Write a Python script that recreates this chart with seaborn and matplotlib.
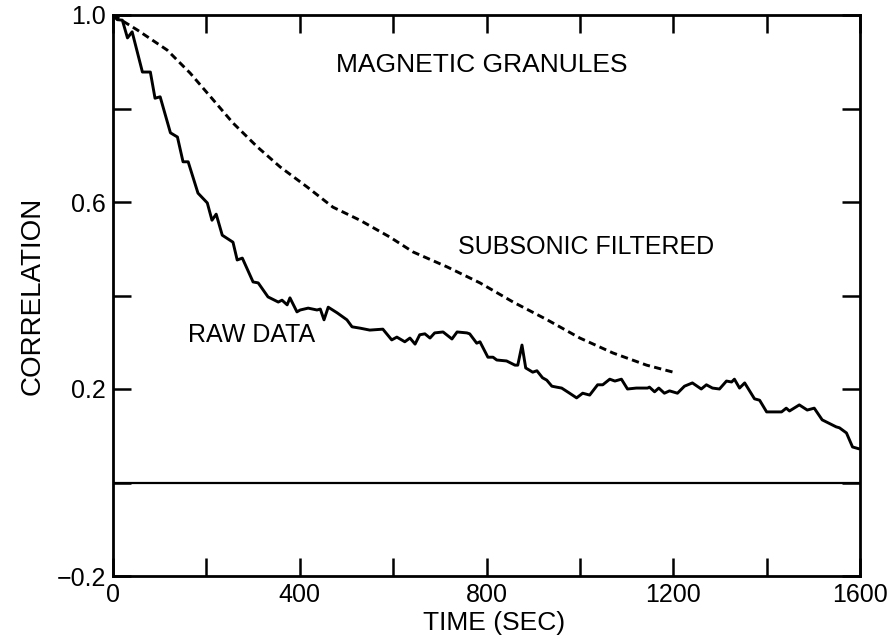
import matplotlib
matplotlib.use("Agg")
import matplotlib.pyplot as plt
import seaborn as sns
import pandas as pd

# ---- data ----
raw_t = [0, 9, 20, 31, 41, 63, 80, 90, 101, 123,
         138, 150, 161, 182, 202, 212, 221, 234, 257, 266,
         277, 300, 311, 332, 354, 362, 373, 379, 394, 401,
         418, 437, 444, 452, 461, 480, 501, 512, 530, 550,
         578, 597, 608, 625, 636, 647, 657, 668, 679, 689,
         707, 726, 737, 758, 764, 779, 786, 803, 814, 822,
         843, 861, 867, 876, 884, 899, 908, 920, 929, 940,
         950, 961, 978, 993, 1006, 1021, 1038, 1049, 1064, 1075,
         1089, 1102, 1121, 1145, 1149, 1160, 1169, 1181, 1192, 1209,
         1224, 1241, 1260, 1271, 1284, 1299, 1314, 1325, 1331, 1342,
         1353, 1374, 1385, 1400, 1432, 1442, 1449, 1470, 1487, 1502,
         1519, 1549, 1556, 1571, 1584, 1598]
raw_c = [1.0, 0.99, 0.989, 0.951, 0.964, 0.878, 0.878, 0.822, 0.825, 0.748,
         0.739, 0.686, 0.686, 0.619, 0.598, 0.561, 0.574, 0.529, 0.514, 0.476,
         0.480, 0.429, 0.427, 0.397, 0.386, 0.390, 0.380, 0.395, 0.365, 0.369,
         0.373, 0.369, 0.371, 0.348, 0.375, 0.363, 0.348, 0.333, 0.330, 0.326,
         0.328, 0.305, 0.311, 0.301, 0.309, 0.296, 0.316, 0.318, 0.309, 0.320,
         0.322, 0.307, 0.322, 0.320, 0.318, 0.298, 0.301, 0.268, 0.268, 0.262,
         0.260, 0.251, 0.251, 0.294, 0.245, 0.236, 0.239, 0.224, 0.219, 0.206,
         0.204, 0.202, 0.191, 0.181, 0.191, 0.187, 0.209, 0.209, 0.221, 0.217,
         0.221, 0.200, 0.202, 0.202, 0.204, 0.194, 0.202, 0.191, 0.196, 0.191,
         0.206, 0.213, 0.200, 0.209, 0.202, 0.200, 0.217, 0.215, 0.221, 0.202,
         0.213, 0.179, 0.176, 0.151, 0.151, 0.159, 0.153, 0.166, 0.155, 0.159,
         0.134, 0.119, 0.117, 0.106, 0.076, 0.072]

filt_t = [0, 52, 116, 165, 215, 257, 309, 358, 416, 471, 529, 593, 643, 716,
          786, 857, 930, 1000, 1071, 1143, 1200]
filt_c = [1.0, 0.968, 0.925, 0.876, 0.818, 0.769, 0.718, 0.675, 0.632, 0.589,
          0.561, 0.525, 0.493, 0.461, 0.427, 0.386, 0.348, 0.309, 0.277, 0.251,
          0.236]

x_ticks = [0, 200, 400, 600, 800, 1000, 1200, 1400, 1600]
x_labels = ["0", "", "400", "", "800", "", "1200", "", "1600"]
y_ticks = [-0.2, 0.0, 0.2, 0.4, 0.6, 0.8, 1.0]
y_labels = ["\u22120.2", "", "0.2", "", "0.6", "", "1.0"]

title_text = "MAGNETIC GRANULES"
filt_label = "SUBSONIC FILTERED"
raw_label = "RAW DATA"
x_title = "TIME (SEC)"
y_title = "CORRELATION"

# ---- plotting ----
sns.set_style("ticks")
plt.rcParams["font.family"] = ["Liberation Sans", "DejaVu Sans"]
plt.rcParams["text.color"] = "black"
plt.rcParams["axes.labelcolor"] = "black"

fig = plt.figure(figsize=(8.88, 6.41), dpi=100)
ax = fig.add_axes([113 / 888, 1 - 576 / 641, (860 - 113) / 888, (576 - 15) / 641])

raw_df = pd.DataFrame({"t": raw_t, "c": raw_c})
filt_df = pd.DataFrame({"t": filt_t, "c": filt_c})

sns.lineplot(data=raw_df, x="t", y="c", ax=ax, color="black", lw=2.1,
             estimator=None, sort=False)
sns.lineplot(data=filt_df, x="t", y="c", ax=ax, color="black", lw=2.1,
             estimator=None, sort=False, linestyle=(0, (2.5, 1.5)))
ax.axhline(0.0, color="black", lw=1.6)

ax.set_xlim(0, 1600)
ax.set_ylim(-0.2, 1.0)
ax.set_xticks(x_ticks)
ax.set_xticklabels(x_labels)
ax.set_yticks(y_ticks)
ax.set_yticklabels(y_labels)
ax.tick_params(direction="in", length=13, width=1.8, labelsize=18,
               top=True, right=True, color="black", labelcolor="black", pad=5)
for s in ax.spines.values():
    s.set_linewidth(2.0)
    s.set_color("black")

ax.set_xlabel(x_title, fontsize=19, labelpad=0)
ax.xaxis.set_label_coords(0.51, -0.063, transform=ax.transAxes)
ax.xaxis.label.set_va("top")
ax.set_ylabel(y_title, fontsize=20, labelpad=8)

ax.text(790, 0.893, title_text, fontsize=19, ha="center", va="center")
ax.text(738, 0.504, filt_label, fontsize=18, ha="left", va="center")
ax.text(160, 0.316, raw_label, fontsize=18, ha="left", va="center")

fig.savefig("out.png", dpi=100)
